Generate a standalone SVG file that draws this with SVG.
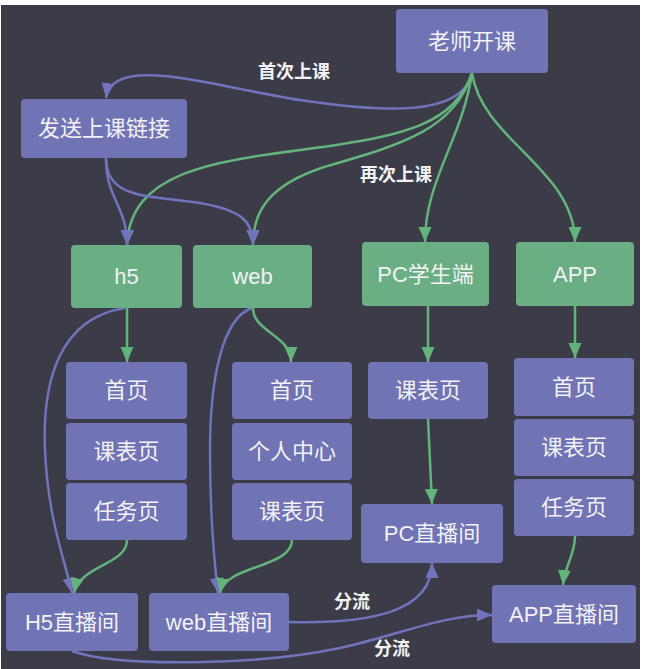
<svg xmlns="http://www.w3.org/2000/svg" width="648" height="669" viewBox="0 0 648 669">
<defs>
<style>
.bg{fill:#3b3c48}
.p rect{fill:#7074b5}
.g rect{fill:#6aae83}
.node text{fill:#f2f2f4;font-family:"Liberation Sans","Noto Sans CJK SC",sans-serif;font-size:22px;text-anchor:middle;dominant-baseline:central}
.lbl{fill:#f2f2f4;font-family:"Liberation Sans","Noto Sans CJK SC",sans-serif;font-size:18px;font-weight:bold;text-anchor:middle;dominant-baseline:central}
.eb{fill:none;stroke:#7174bc;stroke-width:2.5;marker-end:url(#ab)}
.eg{fill:none;stroke:#63b47b;stroke-width:2.5;marker-end:url(#ag)}
</style>
<marker id="ab" markerUnits="userSpaceOnUse" markerWidth="16" markerHeight="14" refX="15" refY="6.5" orient="auto"><path d="M0,0 L15,6.5 L0,13 z" fill="#7174bc"/></marker>
<marker id="ag" markerUnits="userSpaceOnUse" markerWidth="16" markerHeight="14" refX="15" refY="6.5" orient="auto"><path d="M0,0 L15,6.5 L0,13 z" fill="#63b47b"/></marker>
</defs>
<rect x="0" y="0" width="648" height="669" fill="#ffffff"/>
<rect class="bg" x="1" y="5" width="639" height="664"/>

<g id="connectors">
<path class="eb" d="M472,73 C462,118 380,112 300,100 C220,88 112,52 106,98"/>
<path class="eg" d="M472,73 C455,125 400,135 330,146 C230,160 130,165 127,245"/>
<path class="eg" d="M472,73 C455,130 400,145 324,167 C270,185 253,210 253,245"/>
<path class="eg" d="M472,73 C462,140 425,180 425,242"/>
<path class="eg" d="M472,73 C482,140 575,170 575,242"/>
<path class="eb" d="M106,158 C106,200 127,205 127,245"/>
<path class="eb" d="M106,158 C106,200 150,195 200,203 C240,210 253,220 253,245"/>
<path class="eg" d="M127,308 L127,362"/>
<path class="eb" d="M125,308 C60,318 42,380 45,450 C48,520 65,560 72,593"/>
<path class="eg" d="M127,540 C127,565 80,565 74,593"/>
<path class="eg" d="M253,308 C253,332 291,335 291,362"/>
<path class="eb" d="M252,308 C222,318 210,380 210,450 C210,520 214,560 218,593"/>
<path class="eg" d="M292,540 C292,568 225,565 220,593"/>
<path class="eg" d="M428,306 L428,362"/>
<path class="eg" d="M428,419 L432,504"/>
<path class="eg" d="M575,306 L575,358"/>
<path class="eg" d="M575,536 C575,555 565,565 563,585"/>
<path class="eb" d="M289,622 C370,624 432,612 432,563"/>
<path class="eb" d="M72,651 C120,668 260,665 340,648 C400,635 440,615 492,615"/>
<text class="lbl" x="294" y="72">首次上课</text>
<text class="lbl" x="396" y="175">再次上课</text>
<text class="lbl" x="352" y="602">分流</text>
<text class="lbl" x="392" y="649">分流</text>
</g>

<g id="teacher" class="node p"><rect x="396" y="9" width="152" height="64" rx="4"/><text x="472" y="41">老师开课</text></g>
<g id="send" class="node p"><rect x="21" y="99" width="166" height="59" rx="4"/><text x="104" y="128.5">发送上课链接</text></g>
<g id="h5" class="node g"><rect x="71" y="245" width="111" height="63" rx="4"/><text x="126.5" y="276.5">h5</text></g>
<g id="web" class="node g"><rect x="193" y="245" width="119" height="63" rx="4"/><text x="252.5" y="276.5">web</text></g>
<g id="pc" class="node g"><rect x="362" y="242" width="127" height="64" rx="4"/><text x="425.5" y="274">PC学生端</text></g>
<g id="app" class="node g"><rect x="516" y="242" width="118" height="64" rx="4"/><text x="575" y="274">APP</text></g>
<g id="h5-home" class="node p"><rect x="66" y="362" width="121" height="57" rx="4"/><text x="126.5" y="390.5">首页</text></g>
<g id="h5-schedule" class="node p"><rect x="66" y="423" width="121" height="57" rx="4"/><text x="126.5" y="451.5">课表页</text></g>
<g id="h5-task" class="node p"><rect x="66" y="483" width="121" height="57" rx="4"/><text x="126.5" y="511.5">任务页</text></g>
<g id="web-home" class="node p"><rect x="232" y="362" width="120" height="57" rx="4"/><text x="292" y="390.5">首页</text></g>
<g id="web-center" class="node p"><rect x="232" y="423" width="120" height="57" rx="4"/><text x="292" y="451.5">个人中心</text></g>
<g id="web-schedule" class="node p"><rect x="232" y="483" width="120" height="57" rx="4"/><text x="292" y="511.5">课表页</text></g>
<g id="pc-schedule" class="node p"><rect x="368" y="362" width="120" height="57" rx="4"/><text x="428" y="390.5">课表页</text></g>
<g id="pc-live" class="node p"><rect x="361" y="504" width="142" height="59" rx="4"/><text x="432" y="533.5">PC直播间</text></g>
<g id="app-home" class="node p"><rect x="514" y="358" width="120" height="58" rx="4"/><text x="574" y="387">首页</text></g>
<g id="app-schedule" class="node p"><rect x="514" y="419" width="120" height="57" rx="4"/><text x="574" y="447.5">课表页</text></g>
<g id="app-task" class="node p"><rect x="514" y="479" width="120" height="57" rx="4"/><text x="574" y="507.5">任务页</text></g>
<g id="h5-live" class="node p"><rect x="6" y="593" width="132" height="58" rx="4"/><text x="72" y="622">H5直播间</text></g>
<g id="web-live" class="node p"><rect x="149" y="593" width="140" height="58" rx="4"/><text x="219" y="622">web直播间</text></g>
<g id="app-live" class="node p"><rect x="492" y="585" width="144" height="58" rx="4"/><text x="564" y="614">APP直播间</text></g>
</svg>
